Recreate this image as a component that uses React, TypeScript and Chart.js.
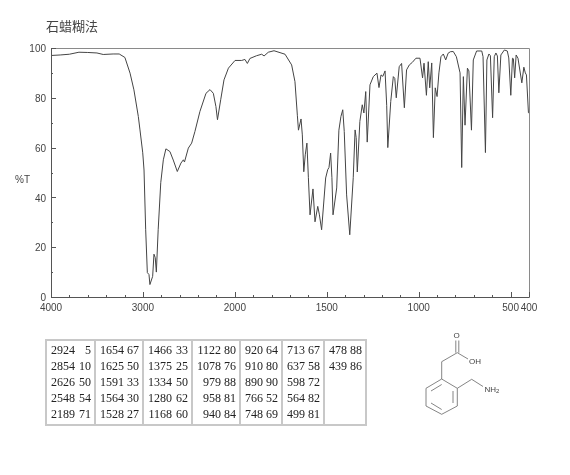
import React, { useEffect, useRef } from "react";
import { Chart, registerables } from "chart.js";

Chart.register(...registerables);

const wavenumbers = [
  4000, 3900, 3800, 3696, 3600, 3500, 3432, 3324, 3258, 3196, 3140, 3098, 3050, 3032, 3002, 2988, 2970, 2952, 2934, 2924,
  2894, 2880, 2866, 2854, 2834, 2806, 2778, 2750, 2706, 2670, 2626, 2586, 2560, 2548, 2506, 2470, 2434, 2380, 2314,
  2270, 2234, 2206, 2189, 2154, 2118, 2070, 1999, 1963, 1945, 1932, 1918, 1882, 1854, 1841, 1818, 1787, 1727,
  1691, 1673, 1660, 1654, 1640, 1633, 1625, 1617, 1608, 1600, 1591, 1575, 1564, 1549, 1540, 1528, 1506, 1495, 1488, 1479, 1472, 1466,
  1446, 1434, 1423, 1413, 1405, 1392, 1375, 1356, 1346, 1340, 1334, 1320, 1307, 1298, 1288, 1280, 1265, 1247, 1227, 1216, 1205, 1195, 1183,
  1174, 1168, 1152, 1138, 1130, 1122, 1106, 1093, 1078, 1066, 1051, 1035, 1015, 993, 979, 971, 958, 948, 940, 929, 920, 910, 900, 890, 879, 866, 853, 840, 828, 812,
  795, 775, 766, 757, 748, 735, 727, 713, 703, 685, 657, 650, 637, 629, 618, 610, 598, 589, 580, 572, 564, 553, 534, 518, 510, 499, 490, 485, 478, 470, 460, 439, 428, 420, 414, 403, 400,
];
const transmittance = [
  97.0, 97.2, 97.5, 98.3, 98.2, 98.0, 97.4, 97.6, 97.6, 96.2, 89.9, 83.2, 72.5, 67.1, 57.9, 51, 27, 9.8, 9, 5,
  8.3, 17.2, 15.8, 10, 27, 45.9, 55.1, 59.5, 58.4, 55, 50.4, 53.8, 55.1, 54.2, 59.8, 61.8, 66.5, 74.5, 81.8,
  83.3, 81.8, 76.5, 71.2, 79.2, 87.2, 91.9, 95, 95, 95.4, 93.8, 95.8, 96.9, 97.5, 96.8, 98.3, 98.9, 97.5,
  93.2, 86.5, 73, 67, 71.5, 65.1, 50.3, 57.1, 61.8, 47.9, 33, 43.4, 30.2, 36.4, 33, 27, 47.8, 51.1, 52, 57.8, 47.9, 33,
  43.8, 67, 72.5, 75.2, 66.5, 41, 25, 47.9, 67.1, 64, 50.2, 70.5, 77.2, 73.9, 82.5, 62.2, 85.2, 88.5, 89.9, 84.1, 89.2, 88.6, 90.8,
  77, 60, 78.5, 88.5, 87.8, 80, 92.5, 93.8, 76, 91.2, 93.2, 94.2, 95.9, 95.9, 88, 93.9, 81, 94.5, 84, 94, 64, 84, 80.5, 90, 96.5, 97.6, 95.2, 97.9, 98.5, 98.6,
  96.5, 90, 52, 88.5, 69, 91.9, 90.8, 67, 95.2, 98.8, 98.8, 96.5, 58, 95.2, 97.6, 96.9, 72, 96.5, 98, 96.8, 82, 97.2, 99.2, 98.8, 96, 81, 95.9, 95.7, 88, 97.2, 95.9, 86, 92.3, 90, 89.2, 74, 74,
];

const majorWavenumbers = [4000, 3000, 2000, 1500, 1000, 500, 400];
const yTickValues = [0, 10, 20, 30, 40, 50, 60, 70, 80, 90, 100];
const titleText = "石蜡糊法";
const yAxisText = "%T";

const peakWavenumbers = [
  2924, 2854, 2626, 2548, 2189, 1654, 1625, 1591, 1564, 1528, 1466, 1375, 1334, 1280, 1168, 1122, 1078, 979, 958, 940,
  920, 910, 890, 766, 748, 713, 637, 598, 564, 499, 478, 439,
];
const peakValues = [
  5, 10, 50, 54, 71, 67, 50, 33, 30, 27, 33, 25, 50, 62, 60, 80, 76, 88, 81, 84, 64, 80, 90, 52, 69, 67, 58, 72, 82, 81, 88, 86,
];
const columnWidths = [49, 48, 49, 48, 42, 42, 42];

// The spectrum axis is compressed by two above 2000 cm-1, as on the instrument's chart paper.
const positionOf = (w: number) => (w >= 2000 ? (4000 - w) / 2 : 1000 + (2000 - w));
const wavenumberOf = (p: number) => (p <= 1000 ? 4000 - p * 2 : 2000 - (p - 1000));

const AXIS_FONT = '"Liberation Sans", sans-serif';
const AXIS_COLOR = "#555";

const axisFrame = {
  id: "axisFrame",
  afterDatasetsDraw(chart: any) {
    const { ctx, chartArea: a, scales } = chart;
    ctx.save();
    ctx.lineWidth = 1;
    ctx.strokeStyle = "#8a8a8a";
    ctx.beginPath();
    ctx.moveTo(a.left + 0.5, a.top + 0.5);
    ctx.lineTo(a.right + 0.5, a.top + 0.5);
    ctx.lineTo(a.right + 0.5, a.bottom + 0.5);
    ctx.stroke();
    ctx.strokeStyle = AXIS_COLOR;
    ctx.beginPath();
    ctx.moveTo(a.left + 0.5, a.top + 0.5);
    ctx.lineTo(a.left + 0.5, a.bottom + 0.5);
    ctx.lineTo(a.right + 0.5, a.bottom + 0.5);
    for (const t of scales.x.ticks) {
      const px = Math.round(scales.x.getPixelForValue(t.value)) + 0.5;
      const major = majorWavenumbers.includes(wavenumberOf(t.value));
      ctx.moveTo(px, a.bottom);
      ctx.lineTo(px, a.bottom - (major ? 5 : 2));
    }
    for (const t of scales.y.ticks) {
      const py = Math.round(scales.y.getPixelForValue(t.value)) + 0.5;
      ctx.moveTo(a.left, py);
      ctx.lineTo(a.left + (t.value % 20 === 0 ? 5 : 2), py);
    }
    ctx.stroke();
    ctx.restore();
  },
};

function Molecule() {
  const stroke = "#666";
  const bonds = [
    [441.7, 379, 457.3, 388.3], [457.3, 388.3, 457.3, 406], [457.3, 406, 441.7, 414.3],
    [441.7, 414.3, 426, 406], [426, 406, 426, 388.3], [426, 388.3, 441.7, 379],
    [431, 391, 441.7, 384.5], [431, 403, 441.7, 409.5], [453, 391, 453, 403],
    [441.7, 379, 441.7, 361.7], [441.7, 361.7, 457.3, 352.7],
    [455.8, 352.7, 455.8, 340.5], [458.8, 352.7, 458.8, 340.5],
    [457.3, 352.7, 468, 359], [457.3, 388.3, 471.7, 379.3], [471.7, 379.3, 483, 386.5],
  ];
  return (
    <svg width={120} height={100} viewBox="400 320 120 100"
      style={{ position: "absolute", left: 400, top: 320 }}>
      {bonds.map((b, i) => (
        <line key={i} x1={b[0]} y1={b[1]} x2={b[2]} y2={b[3]} stroke={stroke} strokeWidth={0.8} />
      ))}
      <g fontFamily='"Liberation Sans", sans-serif' fontSize={8} fill="#444">
        <text x={453.5} y={337.5}>O</text>
        <text x={469} y={364}>OH</text>
        <text x={484.5} y={391.5}>NH<tspan fontSize={6} dy={1.5}>2</tspan></text>
      </g>
    </svg>
  );
}

function PeakTable() {
  const columns = columnWidths.map((_, c) => peakWavenumbers.map((w, i) => [w, peakValues[i]]).slice(c * 5, c * 5 + 5));
  const edge = "2px solid #c8c8c8";
  return (
    <table style={{
      position: "absolute", left: 45, top: 339, borderCollapse: "collapse", tableLayout: "fixed",
      fontFamily: '"Liberation Serif", serif', fontSize: 12, lineHeight: "16px", color: "#222",
      border: edge, width: columnWidths.reduce((a, b) => a + b, 0),
    }}>
      <tbody>
        <tr style={{ height: 84 }}>
          {columns.map((col, c) => (
            <td key={c} style={{ width: columnWidths[c], border: edge, padding: "1px 3px 2px 4px", verticalAlign: "top", boxSizing: "border-box" }}>
              {col.map(([w, v]) => (
                <div key={w} style={{ display: "flex", justifyContent: "space-between", whiteSpace: "nowrap" }}>
                  <span style={{ width: c < 4 ? 24 : 18, textAlign: "right" }}>{w}</span>
                  <span>{v}</span>
                </div>
              ))}
            </td>
          ))}
        </tr>
      </tbody>
    </table>
  );
}

export default function App() {
  const canvasRef = useRef<HTMLCanvasElement>(null);
  useEffect(() => {
    const chart = new Chart(canvasRef.current as HTMLCanvasElement, {
      type: "line",
      data: {
        datasets: [{
          data: wavenumbers.map((w, i) => ({ x: positionOf(w), y: transmittance[i] })),
          borderColor: "#444",
          borderWidth: 1,
          pointRadius: 0,
          tension: 0,
          fill: false,
        }],
      },
      options: {
        responsive: false,
        animation: false,
        layout: { padding: { left: 0, right: 41, top: 48, bottom: 0 } },
        plugins: { legend: { display: false }, tooltip: { enabled: false } },
        scales: {
          x: {
            type: "linear",
            min: 0,
            max: positionOf(400),
            border: { display: false },
            grid: { display: false, drawTicks: false },
            afterBuildTicks(scale: any) {
              const ticks = [];
              for (let p = 0; p <= positionOf(400); p += 100) ticks.push({ value: p });
              scale.ticks = ticks;
            },
            afterFit(scale: any) { scale.height = 178; },
            ticks: {
              autoSkip: false, maxRotation: 0, padding: 5, color: "#444",
              font: { family: AXIS_FONT, size: 10 },
              callback: (v: any) => {
                const w = wavenumberOf(Number(v));
                return majorWavenumbers.includes(w) ? String(w) : "";
              },
            },
          },
          y: {
            type: "linear",
            min: 0,
            max: 100,
            border: { display: false },
            grid: { display: false, drawTicks: false },
            afterBuildTicks(scale: any) { scale.ticks = yTickValues.map((value) => ({ value })); },
            afterFit(scale: any) { scale.width = 51; },
            ticks: {
              autoSkip: false, padding: 5, color: "#444", labelOffset: 1.5,
              font: { family: AXIS_FONT, size: 10 },
              callback: (v: any) => (Number(v) % 20 === 0 ? String(v) : ""),
            },
          },
        },
      },
      plugins: [axisFrame],
    } as any);
    return () => chart.destroy();
  }, []);
  return (
    <div style={{ position: "absolute", left: 0, top: 0, width: 570, height: 475, background: "#fff", overflow: "hidden" }}>
      <canvas ref={canvasRef} width={570} height={475} style={{ position: "absolute", left: 0, top: 0 }} />
      <div style={{ position: "absolute", left: 46, top: 17, fontFamily: '"Noto Sans CJK SC", sans-serif', fontSize: 13, lineHeight: "18px", color: "#444" }}>{titleText}</div>
      <div style={{ position: "absolute", left: 15, top: 173, fontFamily: AXIS_FONT, fontSize: 10, lineHeight: "14px", color: "#444" }}>{yAxisText}</div>
      <PeakTable />
      <Molecule />
    </div>
  );
}
